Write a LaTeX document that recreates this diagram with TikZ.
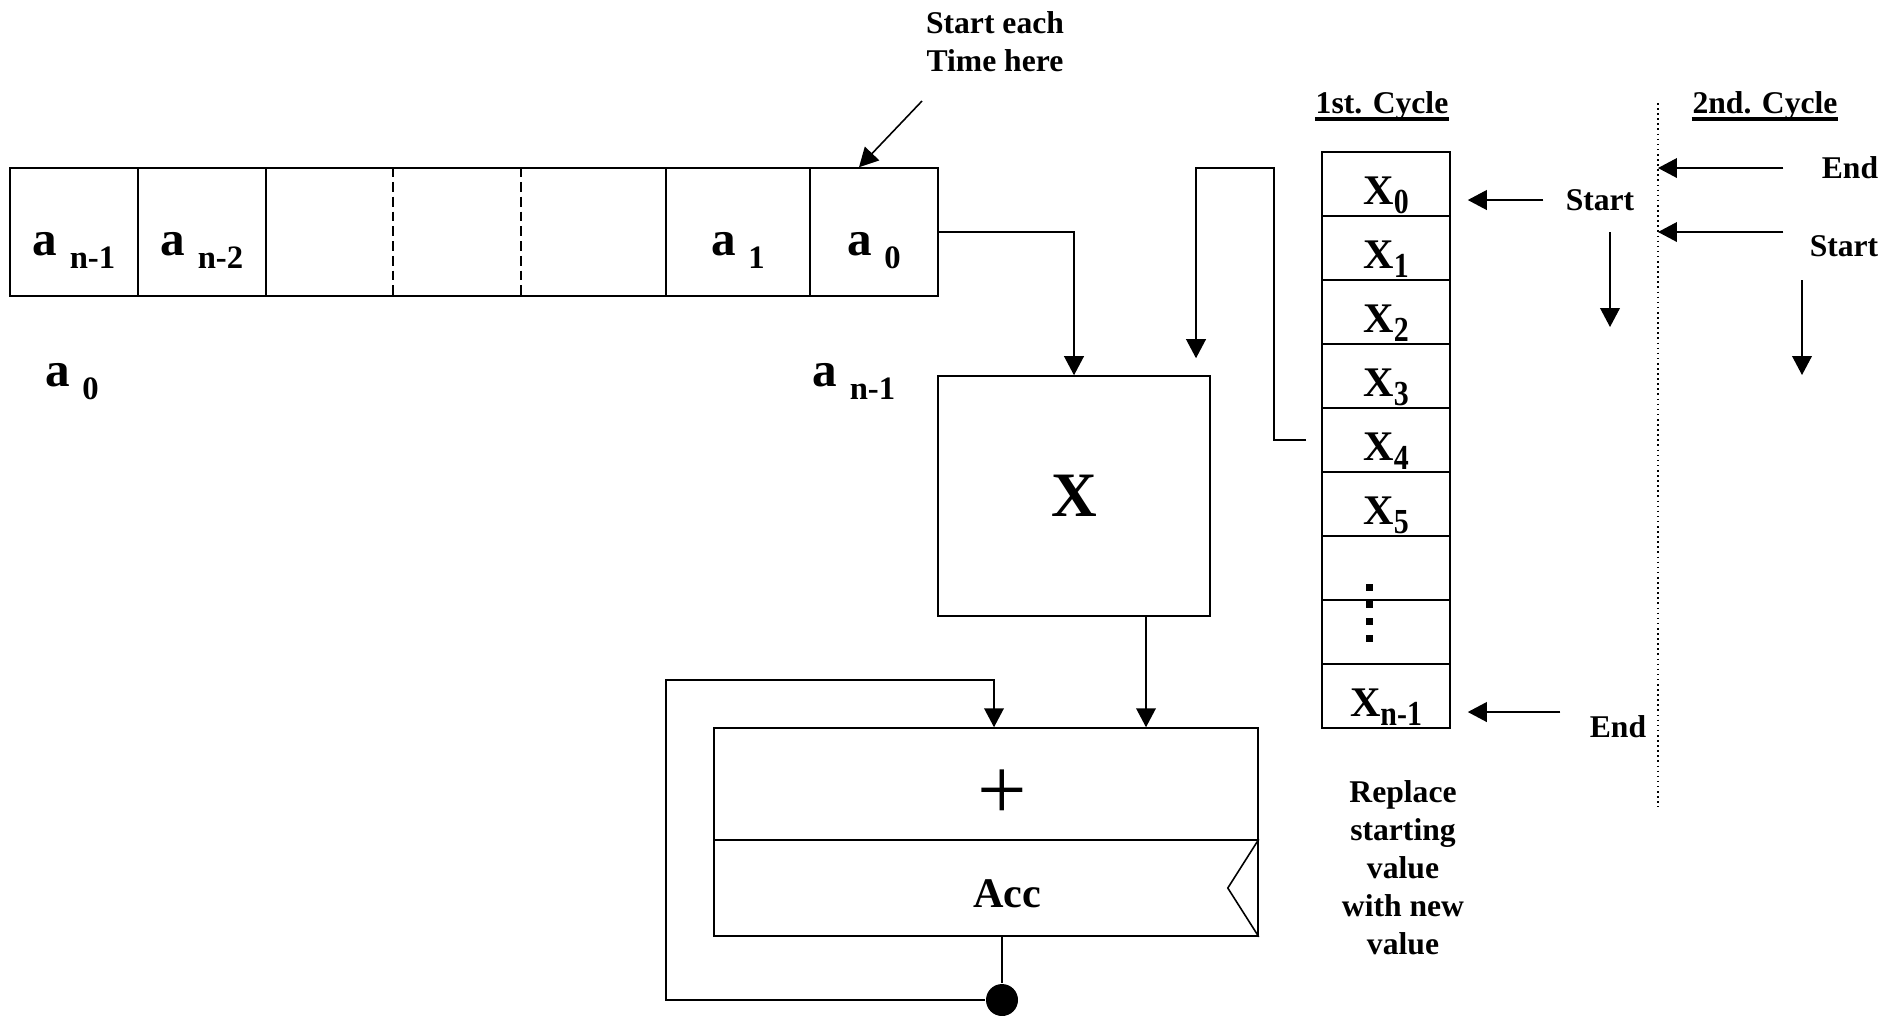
\documentclass[tikz,border=0pt]{standalone}
\usepackage{fontspec}
\setmainfont{Liberation Serif}
\usepackage{tikz}
\usetikzlibrary{positioning,arrows.meta,calc}

\newcommand{\coef}[1]{{\fontsize{14}{14}\selectfont a}\hspace{3.5pt}\raisebox{-3.7pt}{\fontsize{9.3}{9.3}\selectfont #1}}
\newcommand{\xval}[1]{\fontsize{12}{12}\selectfont X\raisebox{-2.8pt}{\scalebox{0.85}[1]{\fontsize{10}{10}\selectfont #1}}}

\begin{document}
\begin{tikzpicture}[
  line width=0.45pt,
  font=\bfseries\fontsize{9}{10.8}\selectfont,
  cell/.style={draw, minimum height=1.28cm, inner sep=1pt, text height=13.5pt, text depth=0pt},
  mem/.style={draw, minimum width=1.28cm, minimum height=0.64cm, inner sep=1pt, text height=11.4pt, text depth=0pt},
  lbl/.style={align=center},
  cyc/.style={inner xsep=0pt},
  arr/.style={-{Triangle[length=5.4pt,width=5.6pt]}},
  gap/.style={dash pattern=on 2.8pt off 1.4pt},
]
\useasboundingbox (0,0) rectangle (19.02,-10.15);

% coefficient register
\node[cell, minimum width=1.28cm] (an1) at (0.74,-2.32) {\coef{n-1}};
\node[cell, minimum width=1.28cm] (an2) at (2.02,-2.32) {\coef{n-2}};
\node[cell, minimum width=4.00cm] (amid) at (4.66,-2.32) {};
\node[cell, minimum width=1.44cm] (a1) at (7.38,-2.32) {\coef{1}};
\node[cell, minimum width=1.28cm] (a0) at (8.74,-2.32) {\coef{0}};
\draw[gap] ([xshift=1.28cm]amid.north west) -- ([xshift=1.28cm]amid.south west);
\draw[gap] ([xshift=2.56cm]amid.north west) -- ([xshift=2.56cm]amid.south west);
\node[anchor=base] (lo0) at (0.72,-3.86) {\coef{0}};
\node[anchor=base] (lon1) at (8.54,-3.86) {\coef{n-1}};

\node[lbl] (note) at (9.95,-0.415) {Start each\\Time here};
\coordinate (notetail) at (9.22,-1.01);
\draw[arr] (notetail) -- ([xshift=-0.15cm]a0.north);

% multiplier
\node[draw, minimum width=2.72cm, minimum height=2.40cm, font=\bfseries\fontsize{18}{18}\selectfont] (mult) at (10.74,-4.96) {X};
\draw[arr] (a0.east) -| (mult.north);

% memory column
\node[mem] (m0) at (13.86,-1.84) {\xval{0}};
\node[mem] (m1) at (13.86,-2.48) {\xval{1}};
\node[mem] (m2) at (13.86,-3.12) {\xval{2}};
\node[mem] (m3) at (13.86,-3.76) {\xval{3}};
\node[mem] (m4) at (13.86,-4.40) {\xval{4}};
\node[mem] (m5) at (13.86,-5.04) {\xval{5}};
\node[mem] (m6) at (13.86,-5.68) {};
\node[mem] (m7) at (13.86,-6.32) {};
\node[mem] (m8) at (13.86,-6.96) {\xval{n-1}};
\fill (13.66,-5.835) rectangle (13.73,-5.905);
\fill (13.66,-6.005) rectangle (13.73,-6.075);
\fill (13.66,-6.175) rectangle (13.73,-6.245);
\fill (13.66,-6.345) rectangle (13.73,-6.415);
\draw[arr, shorten >=0.17cm] ([xshift=-0.15cm]m4.west) -| (12.74,-1.68) -| ([xshift=1.22cm]mult.north);

% accumulator
\node[draw, minimum width=5.44cm, minimum height=1.12cm,
  label={[font=\mdseries\fontsize{25}{25}\selectfont, xshift=0.16cm, yshift=-0.11cm]center:+}] (adder) at (9.86,-7.84) {};
\node[draw, minimum width=5.44cm, minimum height=0.96cm,
  label={[font=\bfseries\fontsize{12}{12}\selectfont, xshift=0.21cm, yshift=-0.06cm]center:Acc}] (acc) at (9.86,-8.88) {};
\draw (acc.north east) -- ([xshift=-0.31cm]acc.east) -- (acc.south east);
\draw[arr] ([xshift=0.72cm]mult.south) -- ([xshift=0.72cm]mult.south |- adder.north);
\node[circle, fill, inner sep=0pt, minimum size=0.32cm] (fb) at (10.02,-10.00) {};
\draw (acc.south -| fb) -- (fb);
\draw[arr] (fb.west) -| (6.66,-6.80) -| ([xshift=0.08cm]adder.north);

% cycles
\node[cyc] (cyc1) at (13.82,-1.06) {1st. Cycle};
\node[cyc] (cyc2) at (17.65,-1.06) {2nd. Cycle};
\draw[line width=1.1pt] ([yshift=-0.055cm]cyc1.base west) -- ([yshift=-0.055cm]cyc1.base east);
\draw[line width=1.1pt] ([yshift=-0.055cm]cyc2.base west) -- ([yshift=-0.055cm]cyc2.base east);
\coordinate (dtop) at (16.58,-1.03);
\coordinate (dbot) at (16.58,-8.07);
\draw[densely dotted] (dtop) -- (dbot);

\node (st1) at (16.00,-2.00) {Start};
\draw[arr] ([xshift=-0.1cm]st1.west) -- ([xshift=0.17cm]st1.west -| m0.east);
\draw[arr] ([xshift=0.1cm,yshift=-0.32cm]st1.center) -- ++(0,-0.95);
\node (en1) at (16.18,-7.27) {End};
\draw[arr] ([xshift=-0.17cm,yshift=0.15cm]en1.west) -- ([xshift=0.17cm,yshift=0.15cm]en1.west -| m8.east);

\node (en2) at (18.50,-1.68) {End};
\draw[arr] ([xshift=-0.26cm]en2.west) -- (en2.west -| dtop);
\node (st2) at (18.44,-2.46) {Start};
\draw[arr] ([xshift=-0.14cm,yshift=0.14cm]st2.west) -- ([yshift=0.14cm]st2.west -| dtop);
\draw[arr] ([xshift=-0.42cm,yshift=-0.34cm]st2.center) -- ++(0,-0.95);

\node[lbl] (repl) at (14.03,-8.675) {Replace\\starting\\value\\with new\\value};
\end{tikzpicture}
\end{document}
